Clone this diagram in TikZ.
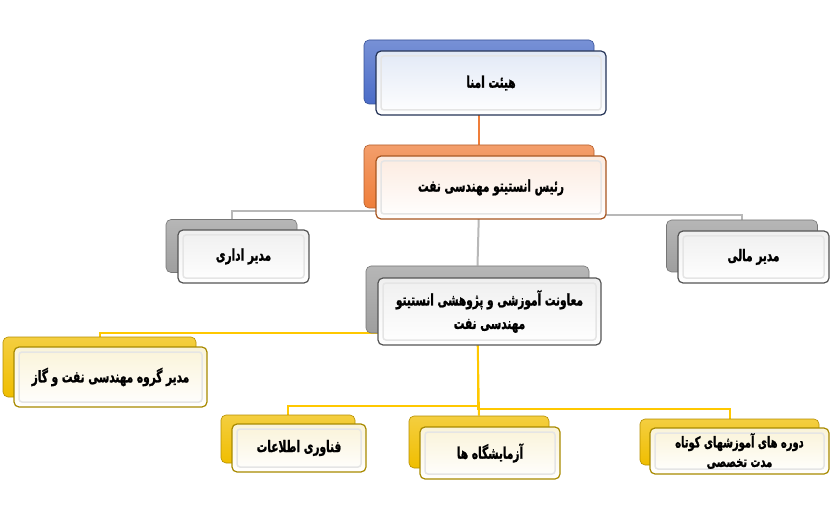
\documentclass[tikz,border=0pt]{standalone}
\usepackage{fontspec}
\newfontfamily\fafont[Script=Arabic, FakeStretch=0.66, FakeBold=1.2]{DejaVu Sans}
\TeXXeTstate=1
\usetikzlibrary{backgrounds}
\newcommand\fa[1]{\beginR #1\endR}
\definecolor{cblue}{HTML}{4A6CC8}
\definecolor{cblueedge}{HTML}{243356}
\definecolor{cbluetint}{HTML}{E2E9F6}
\definecolor{corange}{HTML}{EF7E3A}
\definecolor{corangeedge}{HTML}{A8551F}
\definecolor{corangetint}{HTML}{FCEBE0}
\definecolor{cgrey}{HTML}{9E9E9E}
\definecolor{cgreyedge}{HTML}{555555}
\definecolor{cgreytint}{HTML}{EFEFEF}
\definecolor{cgold}{HTML}{F0BE00}
\definecolor{cgoldedge}{HTML}{A88A00}
\definecolor{cgoldtint}{HTML}{FAF3D8}
\definecolor{lgrey}{HTML}{B8B8B8}
\definecolor{lgold}{HTML}{FFC800}
\tikzset{
  every picture/.style={x=1pt, y=-1pt},
  wh/.style 2 args={minimum width=#1pt, minimum height=#2pt, inner sep=0pt},
  back/.style={draw=#1!75!black, line width=0.6pt, rounded corners=5pt,
    top color=#1!75!white, bottom color=#1},
  front/.style={draw=#1edge, line width=1.2pt, rounded corners=5pt,
    top color=#1tint, bottom color=white, align=center,
    font=\fafont\bfseries\fontsize{16}{23.5}\selectfont,
    path picture={\draw[black!10, line width=1.5pt, rounded corners=3pt]
      ([shift={(5pt,-5pt)}]path picture bounding box.north west) rectangle
      ([shift={(-5pt,5pt)}]path picture bounding box.south east);}},
  link/.style={draw=#1, line width=2pt},
}
\begin{document}
\begin{tikzpicture}
  \useasboundingbox (0,0) rectangle (831,508);
  % top of the chart
  \node[back=cblue, wh={230}{64}] (b1) at (479,72) {};
  \node[front=cblue, wh={230}{64}] (f1) at (491,83) {\fa{هیئت امنا}};
  \node[back=corange, wh={230}{63}] (b2) at (479,176.5) {};
  \node[front=corange, wh={230}{63}] (f2) at (491,187.5) {\fa{رئیس انستیتو مهندسی نفت}};
  % managers
  \node[back=cgrey, wh={131}{53}] (b3) at (231.5,246) {};
  \node[front=cgrey, wh={131}{53}] (f3) at (243.5,256.5) {\fa{مدیر اداری}};
  \node[back=cgrey, wh={151}{52}] (b4) at (742,246) {};
  \node[front=cgrey, wh={151}{52}] (f4) at (753.5,257) {\fa{مدیر مالی}};
  \node[back=cgrey, wh={223}{67}] (b5) at (477.5,299.5) {};
  \node[front=cgrey, wh={223}{67}] (f5) at (489.5,311.5)
    {\fa{معاونت آموزشی و پژوهشی انستیتو}\\\fa{مهندسی نفت}};
  % units
  \node[back=cgold, wh={193}{60}] (b6) at (99.5,367) {};
  \node[front=cgold, wh={193}{60}] (f6) at (110.5,377) {\fa{مدیر گروه مهندسی نفت و گاز}};
  \node[back=cgold, wh={134}{48}] (b7) at (288,439) {};
  \node[front=cgold, wh={134}{48}] (f7) at (299,448) {\fa{فناوری اطلاعات}};
  \node[back=cgold, wh={140}{52}] (b8) at (479,442) {};
  \node[front=cgold, wh={140}{52}] (f8) at (490,453) {\fa{آزمایشگاه ها}};
  \node[back=cgold, wh={179}{46}] (b9) at (729.5,442) {};
  \node[front=cgold, wh={179}{46}, font=\fafont\bfseries\fontsize{15}{19.5}\selectfont]
    (f9) at (739.5,451) {\fa{دوره های آموزشهای کوتاه}\\\fa{مدت تخصصی}};
  \begin{scope}[on background layer]
    \draw[link=corange] (b1.south) -- (b2.north);
    \draw[link=lgrey] (b2.south) -- ++(0,3) -| (b3.north);
    \draw[link=lgrey] (b2.south) -- ++(0,7) -| (b4.north);
    \draw[link=lgrey] (b2.south) -- (b5.north);
    \draw[link=lgold] (b5.south) -| (b6.north);
    \draw[link=lgold] (b5.south) -- ++(0,73) -| (b7.north);
    \draw[link=lgold] (b5.south) -- (b8.north);
    \draw[link=lgold] (b5.south) -- ++(0,76) -| (b9.north);
  \end{scope}
\end{tikzpicture}
\end{document}
